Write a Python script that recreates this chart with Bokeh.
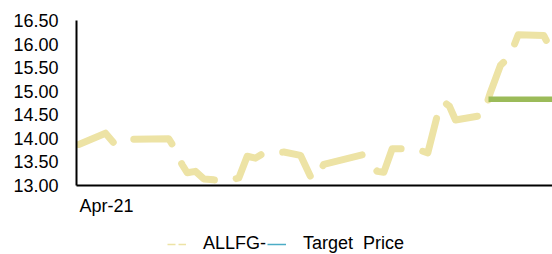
from bokeh.plotting import figure
from bokeh.models import Legend, LegendItem, FixedTicker, Range1d
from bokeh.layouts import column
from bokeh.embed import file_html
from bokeh.resources import INLINE

# Data (day index within the period, price)
day = [2.3, 29, 37.3, 41, 56.3, 92.3, 95, 105.7, 110.7, 119, 127.3, 137.3, 150,
       162.3, 170.7, 179, 185.7, 207.3, 224, 234, 239, 247.3, 285.7, 300.7, 307.3,
       315.7, 329, 340, 351.3, 361.3, 367, 373, 379, 406.7, 414, 424, 433.3, 441.7,
       467.3, 474, 480]
price = [13.87, 14.11, 13.90, 13.87, 13.98, 13.99, 13.90, 13.44, 13.27, 13.30, 13.14,
         13.12, 13.10, 13.16, 13.62, 13.58, 13.67, 13.71, 13.64, 13.19, 13.13, 13.45,
         13.65, 13.30, 13.28, 13.78, 13.78, 13.77, 13.69, 14.53, 14.78, 14.68, 14.39,
         14.49, 14.98, 15.55, 15.74, 16.20, 16.18, 15.90, 15.69]
target_day = [412, 480]
target_price = [14.83, 14.83]

x_tick_pos = [30]
x_tick_labels = ["Apr-21"]
y_ticks = [13.0, 13.5, 14.0, 14.5, 15.0, 15.5, 16.0, 16.5]
series_names = ["ALLFG-", "Target  Price"]

p = figure(width=552, height=232, output_backend="svg", toolbar_location=None,
           x_range=Range1d(0, 476), y_range=Range1d(13.0, 16.5),
           min_border_left=76, min_border_right=0, min_border_top=20, min_border_bottom=47)
p.outline_line_color = None
p.grid.visible = False

p.line(day, price, line_color="#EDE3A5", line_width=7, line_dash="41 22",
       line_cap="round", line_join="round")
p.line(target_day, target_price, line_color="#9BBB59", line_width=5.5)

p.xaxis.ticker = FixedTicker(ticks=x_tick_pos)
p.xaxis.major_label_overrides = {x_tick_pos[0]: x_tick_labels[0]}
p.yaxis.ticker = FixedTicker(ticks=y_ticks)
p.yaxis.major_label_overrides = {v: f"{v:.2f}" for v in y_ticks}
for ax in (p.xaxis, p.yaxis):
    ax.axis_line_color = "black"
    ax.axis_line_width = 2
    ax.major_tick_line_color = None
    ax.minor_tick_line_color = None
    ax.major_label_text_font = "Liberation Sans"
    ax.major_label_text_font_size = "18px"
    ax.major_label_text_color = "black"
p.xaxis.major_label_standoff = 4
p.yaxis.major_label_standoff = 12

# Legend strip below the chart
lg = figure(width=552, height=22, output_backend="svg", toolbar_location=None,
            x_axis_type=None, y_axis_type=None, x_range=Range1d(0, 1), y_range=Range1d(0, 1),
            min_border_left=0, min_border_right=0, min_border_top=0, min_border_bottom=0)
lg.outline_line_color = None
lg.grid.visible = False
r1 = lg.line([-5, -4], [-5, -5], line_color="#EDE3A5", line_width=1.5, line_dash="8 3")
r2 = lg.line([-5, -4], [-5, -5], line_color="#4BACC6", line_width=1.5)
legend = Legend(items=[LegendItem(label=series_names[0], renderers=[r1]),
                       LegendItem(label=series_names[1], renderers=[r2])],
                orientation="horizontal", location=(91, 0), padding=0, margin=0,
                spacing=1, glyph_width=19, label_standoff=17,
                label_text_font="Liberation Sans", label_text_font_size="18px",
                label_text_color="black", border_line_color=None,
                background_fill_alpha=0)
lg.add_layout(legend, "center")

open("out.html", "w").write(file_html(column(p, lg, spacing=0), INLINE))
